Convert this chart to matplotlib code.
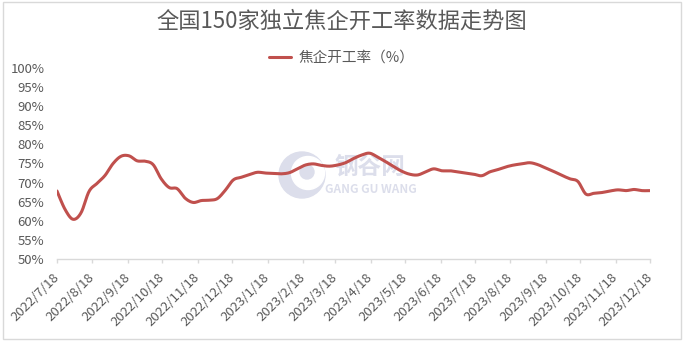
import numpy as np
import pandas as pd
import matplotlib
matplotlib.use('Agg')
import matplotlib.pyplot as plt
import matplotlib.dates as mdates
from matplotlib.patches import Circle, Rectangle

plt.rcParams['font.family'] = ['Noto Sans CJK SC', 'DejaVu Sans']

# weekly coking plant operating rate (%)
dates = pd.date_range('2022-07-18', periods=75, freq='7D')
rate = [67.8, 63.0, 60.4, 62.1, 67.7, 69.8, 71.9, 75.0, 76.9, 77.0,
        75.7, 75.6, 74.7, 71.0, 68.7, 68.4, 65.9, 64.8, 65.3, 65.4,
        65.8, 68.0, 70.7, 71.4, 72.1, 72.7, 72.5, 72.4, 72.3, 72.6,
        73.6, 74.6, 74.9, 74.5, 74.3, 74.6, 75.2, 76.3, 77.2, 77.7,
        76.7, 75.5, 74.2, 73.0, 72.2, 72.0, 72.8, 73.6, 73.1, 73.1,
        72.8, 72.5, 72.2, 71.8, 72.8, 73.4, 74.1, 74.6, 74.9, 75.2,
        74.7, 73.8, 72.9, 71.9, 71.0, 70.3, 67.0, 67.2, 67.4, 67.8,
        68.1, 67.9, 68.2, 67.9, 67.9]
tick_dates = pd.date_range('2022-07-18', '2023-12-18', freq=pd.DateOffset(months=1))
tick_labels = [f'{d.year}/{d.month}/{d.day}' for d in tick_dates]
y_ticks = list(range(50, 101, 5))

title = '全国150家独立焦企开工率数据走势图'
series_name = '焦企开工率（%）'

RED = '#C0504D'
GRAY = '#595959'
LIGHT = '#D9D9D9'
WM = '#DCDEEB'


def smooth(x, y, n=12):
    # Catmull-Rom spline, similar to Excel's smoothed line
    x = np.asarray(x, float)
    y = np.asarray(y, float)
    px = np.concatenate([[x[0]], x, [x[-1]]])
    py = np.concatenate([[y[0]], y, [y[-1]]])
    t = np.linspace(0, 1, n, endpoint=False)
    xs, ys = [], []
    for i in range(1, len(px) - 2):
        for p, out in ((px, xs), (py, ys)):
            p0, p1, p2, p3 = p[i - 1], p[i], p[i + 1], p[i + 2]
            out.extend(0.5 * (2 * p1 + (-p0 + p2) * t
                              + (2 * p0 - 5 * p1 + 4 * p2 - p3) * t ** 2
                              + (-p0 + 3 * p1 - 3 * p2 + p3) * t ** 3))
    xs.append(x[-1])
    ys.append(y[-1])
    return np.array(xs), np.array(ys)


fig = plt.figure(figsize=(6.83, 3.42), dpi=100)
ax = fig.add_axes([57 / 683, 1 - 259 / 342, 593 / 683, 191 / 342])
ax.set_facecolor('none')

xs, ys = smooth(mdates.date2num(dates), rate)
line, = ax.plot(xs, ys, color=RED, lw=2.2, solid_capstyle='round', label=series_name)

ax.set_xlim(mdates.date2num(tick_dates[0]), mdates.date2num(tick_dates[-1]))
ax.set_ylim(50, 100)
ax.set_yticks(y_ticks)
ax.set_yticklabels([f'{v}%' for v in y_ticks])
ax.set_xticks(mdates.date2num(tick_dates))
ax.set_xticklabels(tick_labels, rotation=45, ha='right', va='center',
                   rotation_mode='anchor')

for s in ('top', 'right', 'left'):
    ax.spines[s].set_visible(False)
ax.spines['bottom'].set_color(LIGHT)
ax.spines['bottom'].set_linewidth(1)
ax.tick_params(axis='y', length=0, pad=9, labelsize=9.5, labelcolor=GRAY)
ax.tick_params(axis='x', length=3, width=1, color=LIGHT, pad=9,
               labelsize=9.5, labelcolor=GRAY)

fig.text(0.5, 1 - 21 / 342, title, ha='center', va='center',
         fontsize=16, fontweight='light', color=GRAY)
fig.legend(handles=[line], loc='center', bbox_to_anchor=(0.5, 1 - 58 / 342),
           frameon=False, fontsize=10.5, labelcolor=GRAY,
           handlelength=1.5, handletextpad=0.5)

# watermark
fig.patches.append(Circle((3.02, 1.67), 0.23, transform=fig.dpi_scale_trans,
                          color=WM, zorder=-2))
fig.patches.append(Circle((3.08, 1.69), 0.165, transform=fig.dpi_scale_trans,
                          color='white', zorder=-2))
fig.patches.append(Circle((3.07, 1.70), 0.07, transform=fig.dpi_scale_trans,
                          color=WM, zorder=-2))
fig.text(370 / 683, 1 - 167 / 342, '钢谷网', ha='center', va='center',
         fontsize=17, fontweight='bold', color=WM, zorder=-1)
fig.text(371 / 683, 1 - 189 / 342, 'GANG GU WANG', ha='center', va='center',
         fontsize=8.5, fontweight='bold', color=WM, zorder=-1)

fig.patches.append(Rectangle((2.5 / 683, 1 - 339 / 342), 678 / 683, 337 / 342,
                             transform=fig.transFigure, fill=False,
                             edgecolor=LIGHT, lw=1, zorder=-3))

fig.savefig('out.png', dpi=100)
